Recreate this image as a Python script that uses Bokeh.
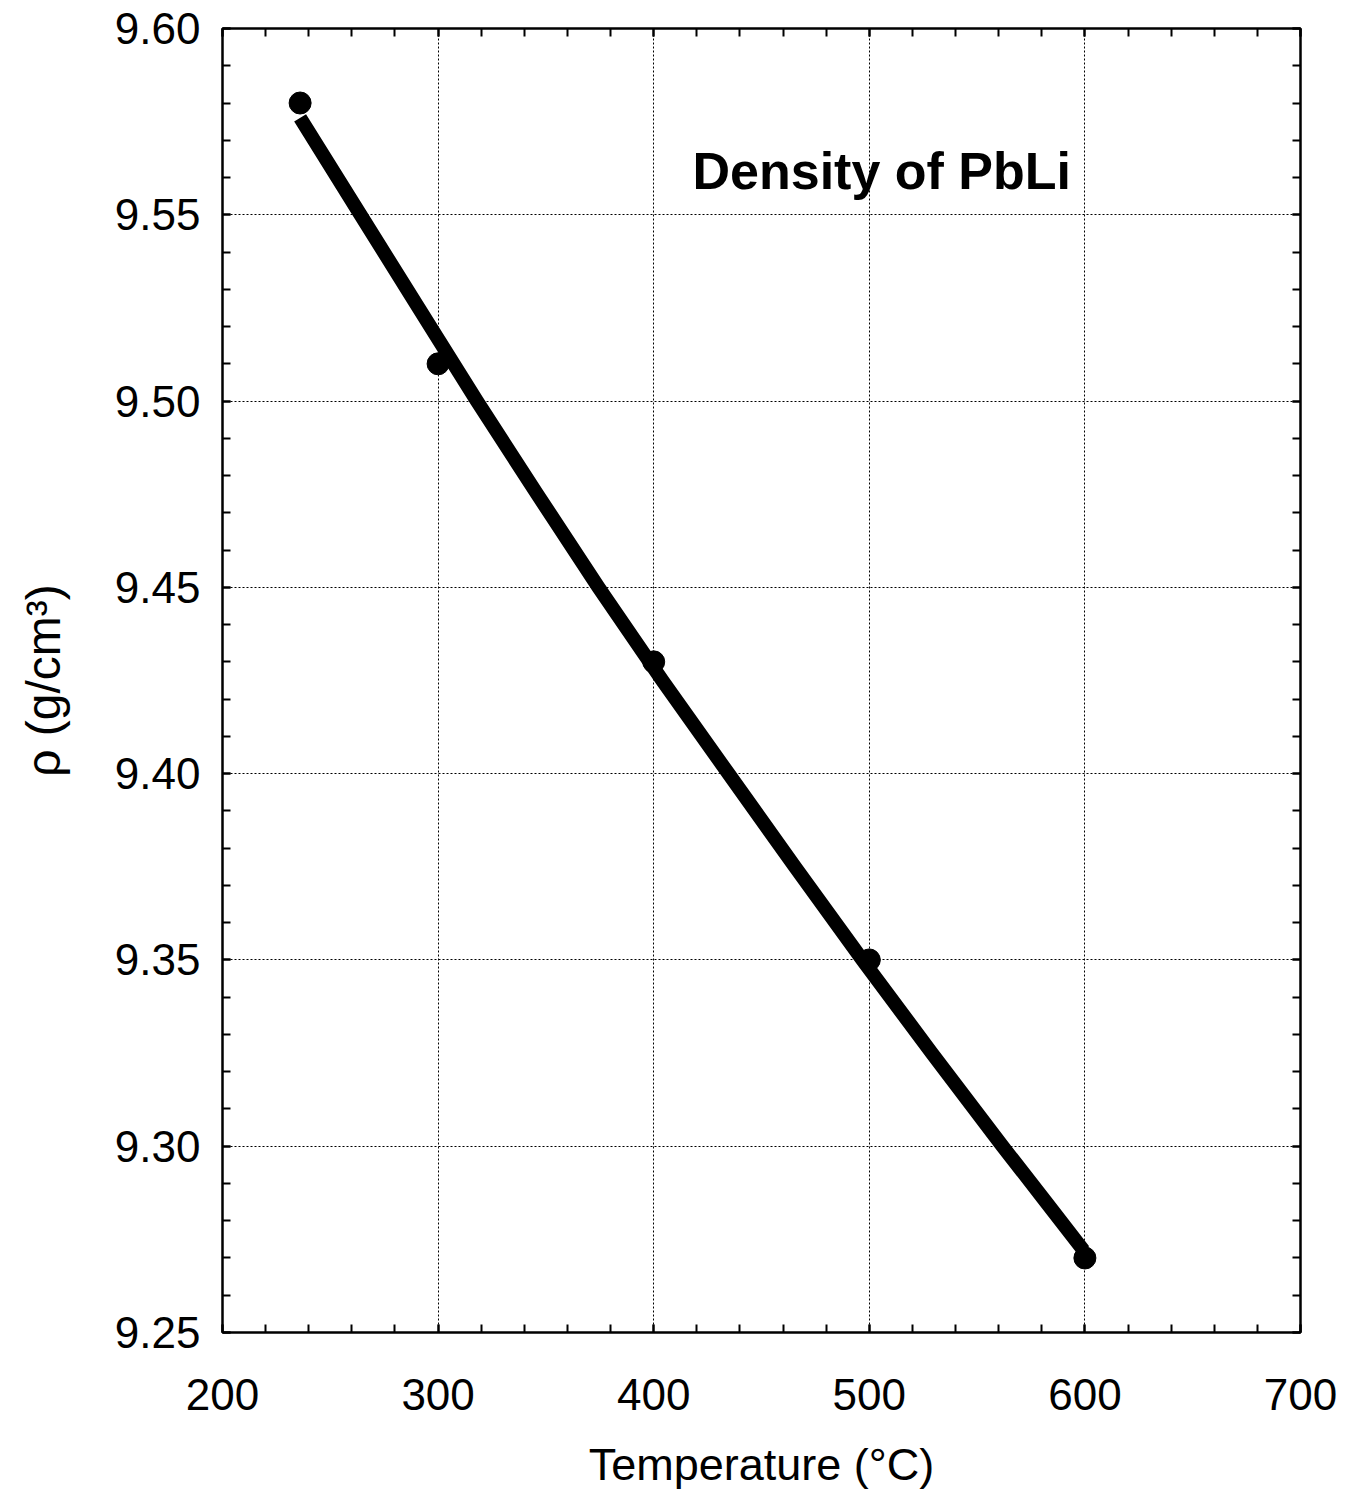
from bokeh.plotting import figure
from bokeh.models import Range1d, LinearAxis, FixedTicker, NumeralTickFormatter, CustomJSTickFormatter, Label
from bokeh.embed import file_html
from bokeh.resources import INLINE

# Measured density of PbLi
temperature = [236, 300, 400, 500, 600]
density = [9.58, 9.51, 9.43, 9.35, 9.27]

# Smoothed fit through the measurements
fit_temperature = [236, 264, 291, 318, 346, 374.4, 404, 434.7, 465.5, 496.8, 529, 561.8, 582, 599.4]
fit_density = [9.576, 9.55, 9.525, 9.50, 9.475, 9.45, 9.425, 9.40, 9.375, 9.35, 9.325, 9.30, 9.285, 9.272]

# Axis ticks
x_ticks = [200, 300, 400, 500, 600, 700]
y_ticks = [9.25, 9.30, 9.35, 9.40, 9.45, 9.50, 9.55, 9.60]

FONT = "Liberation Sans"

x_minor = [x_ticks[0] + 20 * i for i in range(int((x_ticks[-1] - x_ticks[0]) / 20) + 1)]
y_minor = [round(y_ticks[0] + 0.01 * i, 2) for i in range(int(round((y_ticks[-1] - y_ticks[0]) / 0.01)) + 1)]

p = figure(width=1348, height=1492, output_backend="svg", toolbar_location=None,
           x_range=Range1d(200, 700), y_range=Range1d(9.25, 9.60),
           x_axis_label="Temperature (°C)", y_axis_label="ρ (g/cm³)")
p.min_border_left = 222
p.min_border_right = 48
p.min_border_top = 28
p.min_border_bottom = 160
p.background_fill_color = "white"
p.border_fill_color = "white"
p.outline_line_color = "black"
p.outline_line_width = 2

p.xaxis.ticker = FixedTicker(ticks=x_ticks, minor_ticks=x_minor)
p.yaxis.ticker = FixedTicker(ticks=y_ticks, minor_ticks=y_minor)
p.yaxis.formatter = NumeralTickFormatter(format="0.00")


def style_axis(ax):
    ax.axis_line_color = "black"
    ax.axis_line_width = 2
    ax.major_tick_in = 8
    ax.major_tick_out = 0
    ax.minor_tick_in = 8
    ax.minor_tick_out = 0
    ax.major_tick_line_width = 2
    ax.minor_tick_line_width = 2
    ax.major_tick_line_color = "black"
    ax.minor_tick_line_color = "black"
    ax.major_label_text_font = FONT
    ax.major_label_text_font_size = "44px"
    ax.major_label_text_color = "black"
    ax.axis_label_text_font = FONT
    ax.axis_label_text_font_size = "45px"
    ax.axis_label_text_font_style = "normal"
    ax.axis_label_text_color = "black"


for ax in p.xaxis + p.yaxis:
    style_axis(ax)

p.yaxis.axis_label_text_font_size = "48px"
p.xaxis.major_label_standoff = 46
p.xaxis.axis_label_standoff = 26
p.yaxis.major_label_standoff = 22
p.yaxis.axis_label_standoff = 42

# Mirror ticks on the top and right sides of the frame
top = LinearAxis(ticker=FixedTicker(ticks=x_ticks, minor_ticks=x_minor),
                 formatter=CustomJSTickFormatter(code="return ''"))
right = LinearAxis(ticker=FixedTicker(ticks=y_ticks, minor_ticks=y_minor),
                   formatter=CustomJSTickFormatter(code="return ''"))
for ax in (top, right):
    style_axis(ax)
    ax.major_label_standoff = 0
    ax.major_label_text_font_size = "1px"
p.add_layout(top, "above")
p.add_layout(right, "right")

for grid in (p.xgrid, p.ygrid):
    grid.grid_line_color = "black"
    grid.grid_line_dash = "2 2"
    grid.grid_line_width = 1

p.line(fit_temperature, fit_density, line_color="black", line_width=14, line_cap="butt",
       line_join="round")
p.scatter(temperature, density, size=22, fill_color="black", line_color="black")

title = Label(x=418, y=9.5618, text="Density of PbLi", text_font=FONT,
              text_font_size="52px", text_font_style="bold", text_color="black",
              text_baseline="alphabetic")
p.add_layout(title)

open("out.html", "w").write(file_html(p, INLINE))
